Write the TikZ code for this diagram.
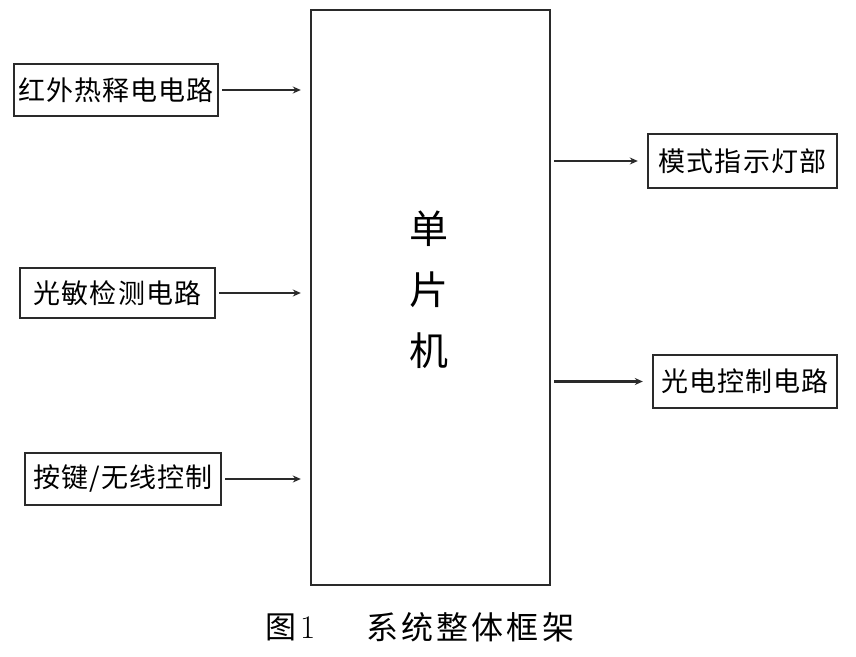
\documentclass[tikz,border=0pt]{standalone}
\usepackage{fontspec}
\newfontfamily\cjk{Noto Sans CJK SC}
\newfontfamily\cjkbox[LetterSpace=4]{Noto Sans CJK SC}
\newfontfamily\cjkcap[LetterSpace=10]{Noto Sans CJK SC}
\usetikzlibrary{arrows.meta}
\definecolor{ink}{HTML}{2A2A2A}
\tikzset{
  blockbox/.style={draw=ink, line width=2.4pt, inner sep=0pt, font=\cjkbox\fontsize{27}{27}\selectfont, text=black},
  flowarrow/.style={draw=ink, line width=2.4pt, -{Stealth[length=8pt,width=7pt]}, shorten >=9pt, shorten <=3pt}
}
\begin{document}
\begin{tikzpicture}[x=1pt,y=-1pt]
\useasboundingbox[fill=white] (0,0) rectangle (856,656);
% main block
\node[blockbox, minimum width=239pt, minimum height=575pt] (mcu) at (430.5,297.5) {};
\node[font=\cjk\fontsize{39}{39}\selectfont, align=center] (mcutext) at (429,290) {单\\[22pt]片\\[22pt]机};
% left inputs
\node[blockbox, minimum width=204pt, minimum height=52pt] (pir) at (116,90) {红外热释电电路};
\node[blockbox, minimum width=195pt, minimum height=50pt] (light) at (117.5,293) {光敏检测电路};
\node[blockbox, minimum width=196pt, minimum height=52pt] (key) at (123,479) {按键/无线控制};
% right outputs
\node[blockbox, minimum width=189pt, minimum height=54pt] (mode) at (742.5,161) {模式指示灯部};
\node[blockbox, minimum width=184pt, minimum height=53pt] (photo) at (745,381.5) {光电控制电路};
% connectors
\draw[flowarrow] (pir.east) -- (pir.east -| mcu.west);
\draw[flowarrow] (light.east) -- (light.east -| mcu.west);
\draw[flowarrow] (key.east) -- (key.east -| mcu.west);
\draw[flowarrow] (mode.west -| mcu.east) -- (mode.west);
\draw[flowarrow] (photo.west -| mcu.east) -- (photo.west);
% caption
\node[font=\cjk\fontsize{31}{31}\selectfont, anchor=west, inner sep=0pt] (capnum) at (265,627) {图\hspace{4pt}\fontspec{Latin Modern Roman}\fontsize{33}{33}\selectfont 1};
\node[font=\cjkcap\fontsize{32}{32}\selectfont, anchor=west, inner sep=0pt] (captext) at (366,627) {系统整体框架};
\end{tikzpicture}
\end{document}
